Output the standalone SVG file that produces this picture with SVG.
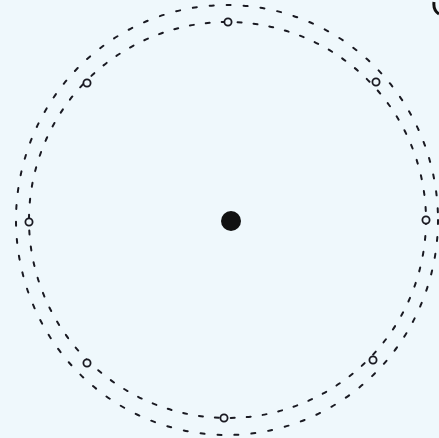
<svg xmlns="http://www.w3.org/2000/svg" width="439" height="438" viewBox="0 0 439 438">
<style>
.orbit{fill:none;stroke:#1a1a22;stroke-width:2;stroke-linecap:round}
.node{fill:#eff8fc;stroke:#1a1a22;stroke-width:1.8}
</style>
<rect width="439" height="438" fill="#eff8fc"/>
<g id="connectors">
<ellipse class="orbit" cx="227.5" cy="220" rx="198.5" ry="198" stroke-dasharray="4 12"/>
<ellipse class="orbit" cx="227" cy="220" rx="211" ry="215" stroke-dasharray="4 13"/>
</g>
<g id="center"><circle cx="231" cy="221" r="10" fill="#111"/></g>
<g id="n-top"><circle class="node" cx="228" cy="22" r="3.6"/></g>
<g id="n-tr"><circle class="node" cx="376" cy="82" r="3.6"/></g>
<g id="n-right"><circle class="node" cx="426" cy="220" r="3.6"/></g>
<g id="n-br"><circle class="node" cx="373" cy="360" r="3.6"/></g>
<g id="n-bottom"><circle class="node" cx="224" cy="418" r="3.6"/></g>
<g id="n-bl"><circle class="node" cx="87" cy="363" r="3.6"/></g>
<g id="n-left"><circle class="node" cx="29" cy="222" r="3.6"/></g>
<g id="n-tl"><circle class="node" cx="87" cy="83" r="3.6"/></g>
<g id="corner"><path d="M439 14 Q433 10 434 2" fill="none" stroke="#111" stroke-width="3"/></g>
</svg>
